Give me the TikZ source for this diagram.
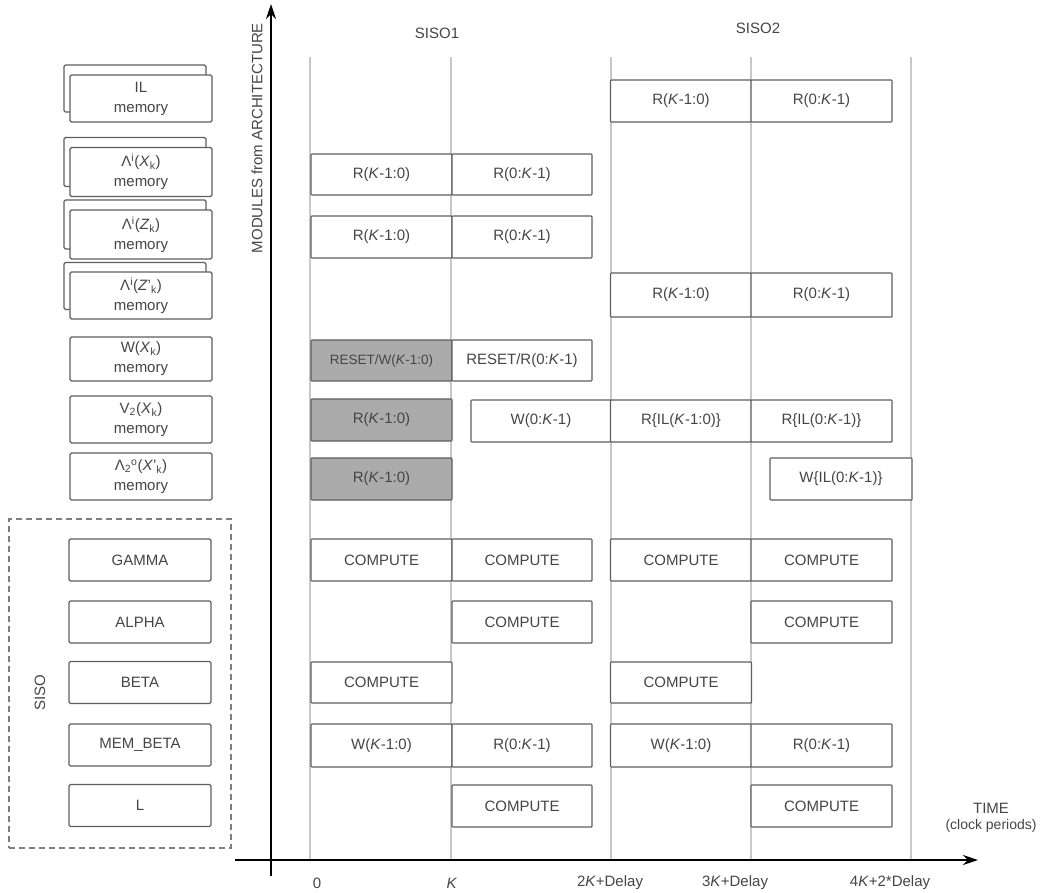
\documentclass[tikz,border=0pt]{standalone}
\usepackage{fontspec}
\setmainfont{Liberation Sans}
\usetikzlibrary{arrows.meta}
\definecolor{txt}{HTML}{454545}
\definecolor{edge}{HTML}{5E5E5E}
\definecolor{gridc}{HTML}{C8C8C8}
\definecolor{shade}{HTML}{ABABAB}
\newcommand{\Kk}{\textit{K}}
\begin{document}
\begin{tikzpicture}[x=1pt,y=-1pt,
  font=\fontsize{15}{20}\selectfont, text=txt,
  tbox/.style={draw=edge, line width=1.1pt, fill=white, inner sep=0pt, outer sep=0pt,
    minimum width=141pt, minimum height=42pt, rounded corners=0.8pt},
  gbox/.style={tbox, fill=shade},
  mbox/.style={draw=edge, line width=1.1pt, fill=white, inner sep=0pt, outer sep=0pt,
    minimum width=142pt, minimum height=47pt, rounded corners=1.5pt, align=center},
  gridline/.style={draw=gridc, line width=1.5pt},
  axisline/.style={draw=black, line width=2pt},
  lab/.style={inner sep=0pt, text=txt}
]
\useasboundingbox (0,0) rectangle (1056,892);

% grid lines
\foreach \gx in {310,451,611,751,911} \draw[gridline] (\gx,57) -- (\gx,860);

% axes
\coordinate (yb) at (271,876);
\coordinate (yt) at (271,4);
\coordinate (xl) at (235,860);
\coordinate (xr) at (978,860);
\draw[axisline, -{Stealth[length=15pt,width=10pt]}] (yb) -- (yt);
\draw[axisline, -{Stealth[length=15pt,width=10pt]}] (xl) -- (xr);

% axis labels
\node[lab, rotate=90] (ylab) at (257,138) {MODULES from ARCHITECTURE};
\node[lab, align=center] (xlab) at (991,818) {TIME\\[-4pt]{\fontsize{14}{18}\selectfont(clock periods)}};
\node[lab] (siso1) at (437,33) {SISO1};
\node[lab] (siso2) at (758,28) {SISO2};

\node[lab] (t0) at (317,883) {0};
\node[lab] (t1) at (452,883) {\Kk};
\node[lab] (t2) at (610,883) {2\Kk+Delay};
\node[lab] (t3) at (735,883) {3\Kk+Delay};
\node[lab] (t4) at (890,883) {4\Kk+2*Delay};

% SISO group
\node[draw=edge!80, line width=1.1pt, dash pattern=on 6pt off 4pt, inner sep=0pt,
  minimum width=222pt, minimum height=329pt] (sisogroup) at (120,683.5) {};
\node[lab, rotate=90] (sisolab) at (40,693) {SISO};

% left module boxes (stacked ones)
\node[mbox] (ilb) at (135,88.5) {};
\node[mbox] (il) at (141,98.5) {IL\\memory};
\node[mbox, minimum height=49pt] (lxb) at (135,162) {};
\node[mbox, minimum height=49pt] (lx) at (141,172) {Λ\textsuperscript{i}(\textit{X}\textsubscript{k})\\memory};
\node[mbox, minimum height=49pt] (lzb) at (135,224.5) {};
\node[mbox, minimum height=49pt] (lz) at (141,234.5) {Λ\textsuperscript{i}(\textit{Z}\textsubscript{k})\\memory};
\node[mbox] (lzpb) at (135,286) {};
\node[mbox] (lzp) at (141,295.5) {Λ\textsuperscript{i}(\textit{Z}'\textsubscript{k})\\memory};
\node[mbox, minimum height=44pt] (wx) at (141,359) {W(\textit{X}\textsubscript{k})\\memory};
\node[mbox] (vx) at (141,419.5) {V\textsubscript{2}(\textit{X}\textsubscript{k})\\memory};
\node[mbox] (l2) at (141,476.5) {Λ\textsubscript{2}\textsuperscript{o}(\textit{X}'\textsubscript{k})\\memory};

\node[mbox, minimum height=42pt] (gamma) at (140,560) {GAMMA};
\node[mbox, minimum height=42pt] (alpha) at (140,622) {ALPHA};
\node[mbox, minimum height=42pt] (beta) at (140,682.5) {BETA};
\node[mbox, minimum height=42pt] (membeta) at (140,745) {MEM\_BETA};
\node[mbox, minimum height=42pt] (lmod) at (140,805.5) {L};

% row 1: IL memory
\node[tbox] (r1c) at (681,101) {R(\Kk-1:0)};
\node[tbox] (r1d) at (821.5,101) {R(0:\Kk-1)};
% row 2
\node[tbox, minimum height=41pt] (r2a) at (381.5,174.5) {R(\Kk-1:0)};
\node[tbox, minimum height=41pt, minimum width=140pt] (r2b) at (522,174.5) {R(0:\Kk-1)};
% row 3
\node[tbox] (r3a) at (381.5,237) {R(\Kk-1:0)};
\node[tbox, minimum width=140pt] (r3b) at (522,237) {R(0:\Kk-1)};
% row 4
\node[tbox, minimum height=44pt] (r4c) at (681,295) {R(\Kk-1:0)};
\node[tbox, minimum height=44pt] (r4d) at (821.5,295) {R(0:\Kk-1)};
% row 5
\node[gbox, minimum height=41pt] (r5a) at (381.5,360.5) {\fontsize{13.5}{16}\selectfont RESET/W(\Kk-1:0)};
\node[tbox, minimum height=41pt, minimum width=140pt] (r5b) at (522,360.5) {RESET/R(0:\Kk-1)};
% row 6
\node[gbox] (r6a) at (381.5,420) {R(\Kk-1:0)};
\node[tbox, minimum width=140pt] (r6b) at (541,421) {W(0:\Kk-1)};
\node[tbox] (r6c) at (681,421) {R\{IL(\Kk-1:0)\}};
\node[tbox] (r6d) at (821.5,421) {R\{IL(0:\Kk-1)\}};
% row 7
\node[gbox] (r7a) at (381.5,479) {R(\Kk-1:0)};
\node[tbox, minimum width=142pt] (r7d) at (841,479) {W\{IL(0:\Kk-1)\}};
% row 8 GAMMA
\node[tbox] (r8a) at (381.5,560) {COMPUTE};
\node[tbox, minimum width=140pt] (r8b) at (522,560) {COMPUTE};
\node[tbox] (r8c) at (681,560) {COMPUTE};
\node[tbox] (r8d) at (821.5,560) {COMPUTE};
% row 9 ALPHA
\node[tbox, minimum width=140pt] (r9b) at (522,622) {COMPUTE};
\node[tbox] (r9d) at (821.5,622) {COMPUTE};
% row 10 BETA
\node[tbox, minimum height=41pt] (r10a) at (381.5,682.5) {COMPUTE};
\node[tbox, minimum height=41pt] (r10c) at (681,682.5) {COMPUTE};
% row 11 MEM_BETA
\node[tbox, minimum height=43pt] (r11a) at (381.5,745.5) {W(\Kk-1:0)};
\node[tbox, minimum height=43pt, minimum width=140pt] (r11b) at (522,745.5) {R(0:\Kk-1)};
\node[tbox, minimum height=43pt] (r11c) at (681,745.5) {W(\Kk-1:0)};
\node[tbox, minimum height=43pt] (r11d) at (821.5,745.5) {R(0:\Kk-1)};
% row 12 L
\node[tbox, minimum width=140pt] (r12b) at (522,806) {COMPUTE};
\node[tbox] (r12d) at (821.5,806) {COMPUTE};
\end{tikzpicture}
\end{document}
